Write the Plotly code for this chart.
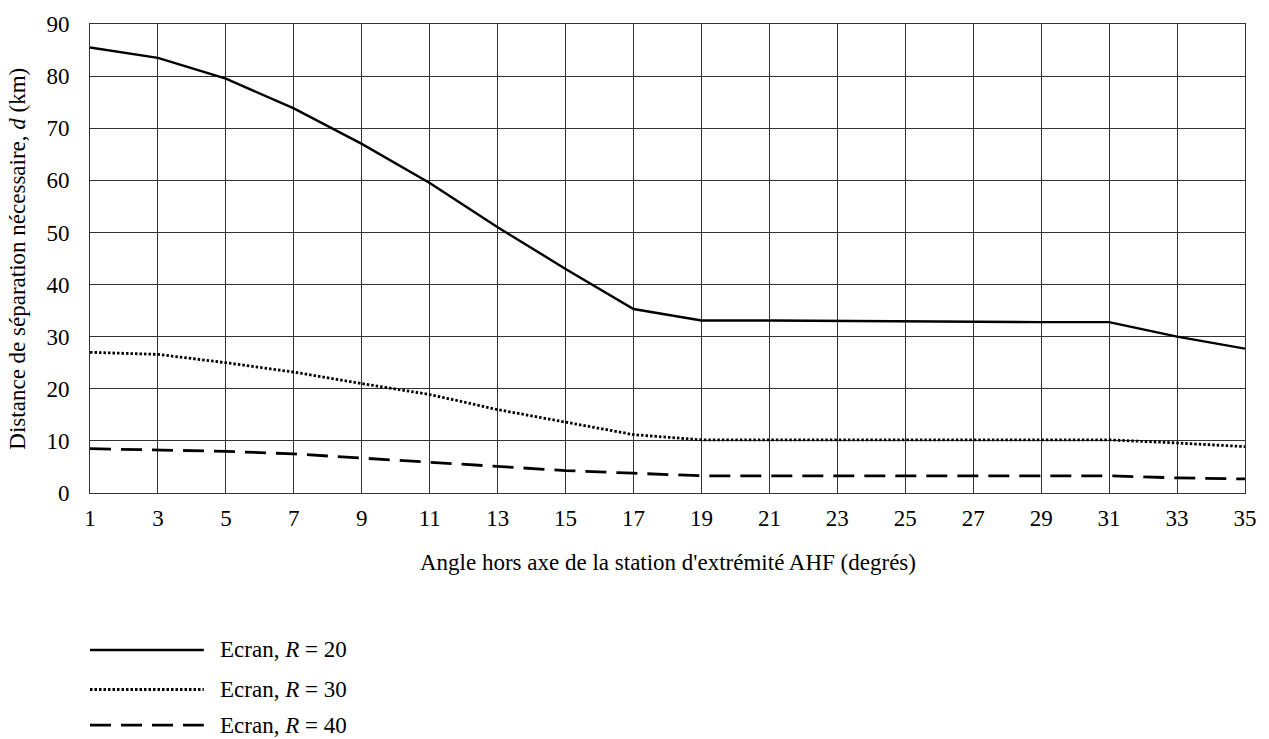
import plotly.graph_objects as go

angles = [1, 3, 5, 7, 9, 11, 13, 15, 17, 19, 21, 23, 25, 27, 29, 31, 33, 35]
r20 = [85.5, 83.5, 79.5, 73.8, 67.0, 59.5, 51.0, 43.0, 35.3, 33.1, 33.1, 33.0, 32.9, 32.9, 32.8, 32.8, 30.0, 27.7]
r30 = [27.0, 26.6, 25.0, 23.2, 21.0, 18.9, 16.0, 13.6, 11.2, 10.2, 10.2, 10.3, 10.3, 10.3, 10.3, 10.2, 9.6, 8.9]
r40 = [8.5, 8.3, 8.0, 7.5, 6.7, 5.9, 5.1, 4.3, 3.8, 3.3, 3.3, 3.3, 3.3, 3.3, 3.3, 3.3, 2.9, 2.7]
series_names = ["Ecran, <i>R</i> = 20", "Ecran, <i>R</i> = 30", "Ecran, <i>R</i> = 40"]
x_ticks = list(range(1, 36, 2))
y_ticks = list(range(0, 91, 10))

FONT = "Liberation Serif, Times New Roman, serif"
FS = 23
styles = [
    dict(width=2.4, dash="solid"),
    dict(width=2.8, dash="2.5px,2px"),
    dict(width=2.8, dash="21px,10px"),
]

W, H = 1269, 739
L, R, T, B = 90, 22, 18, 246
PW, PH = W - L - R, H - T - B


def px(x):
    return (x - L) / PW


def py(y):
    return (H - B - y) / PH


fig = go.Figure()
for ys, name, st in zip([r20, r30, r40], series_names, styles):
    fig.add_trace(go.Scatter(x=angles, y=ys, mode="lines", name=name,
                             line=dict(color="black", width=st["width"], dash=st["dash"]),
                             showlegend=False))

# manual legend with long line samples, as in the reference
legend_y = [652, 692, 728]
for ly, name, st in zip(legend_y, series_names, styles):
    fig.add_shape(type="line", xref="paper", yref="paper",
                  x0=px(90), x1=px(204), y0=py(ly), y1=py(ly),
                  line=dict(color="black", width=st["width"], dash=st["dash"]))
    fig.add_annotation(xref="paper", yref="paper", x=px(218), y=py(ly),
                       xanchor="left", yanchor="middle", showarrow=False,
                       text=name, font=dict(family=FONT, size=FS, color="black"))

# axis titles
fig.add_annotation(xref="paper", yref="paper", x=0.5, y=py(563),
                   xanchor="center", yanchor="middle", showarrow=False,
                   text="Angle hors axe de la station d'extrémité AHF (degrés)",
                   font=dict(family=FONT, size=FS, color="black"))
fig.add_annotation(xref="paper", yref="paper", x=px(17), y=0.5,
                   xanchor="center", yanchor="middle", showarrow=False, textangle=-90,
                   text="Distance de séparation nécessaire, <i>d</i> (km)",
                   font=dict(family=FONT, size=FS, color="black"))

fig.update_layout(
    width=W, height=H,
    margin=dict(l=L, r=R, t=T, b=B),
    paper_bgcolor="white", plot_bgcolor="white",
    font=dict(family=FONT, size=FS, color="black"),
    showlegend=False,
)
fig.update_xaxes(range=[1, 35], tickvals=x_ticks, ticktext=[str(v) for v in x_ticks],
                 showgrid=True, gridcolor="#333333", gridwidth=1,
                 showline=True, linecolor="#333333", linewidth=1, mirror=True,
                 ticks="", zeroline=False, ticklabelstandoff=4)
fig.update_yaxes(range=[0, 90], tickvals=y_ticks, ticktext=[str(v) for v in y_ticks],
                 showgrid=True, gridcolor="#333333", gridwidth=1,
                 showline=True, linecolor="#333333", linewidth=1, mirror=True,
                 ticks="", zeroline=False, ticklabelstandoff=15)

fig.write_html("out.html", config={"displayModeBar": False},
               post_script="document.body.style.margin='0';document.body.style.overflow='hidden';")
